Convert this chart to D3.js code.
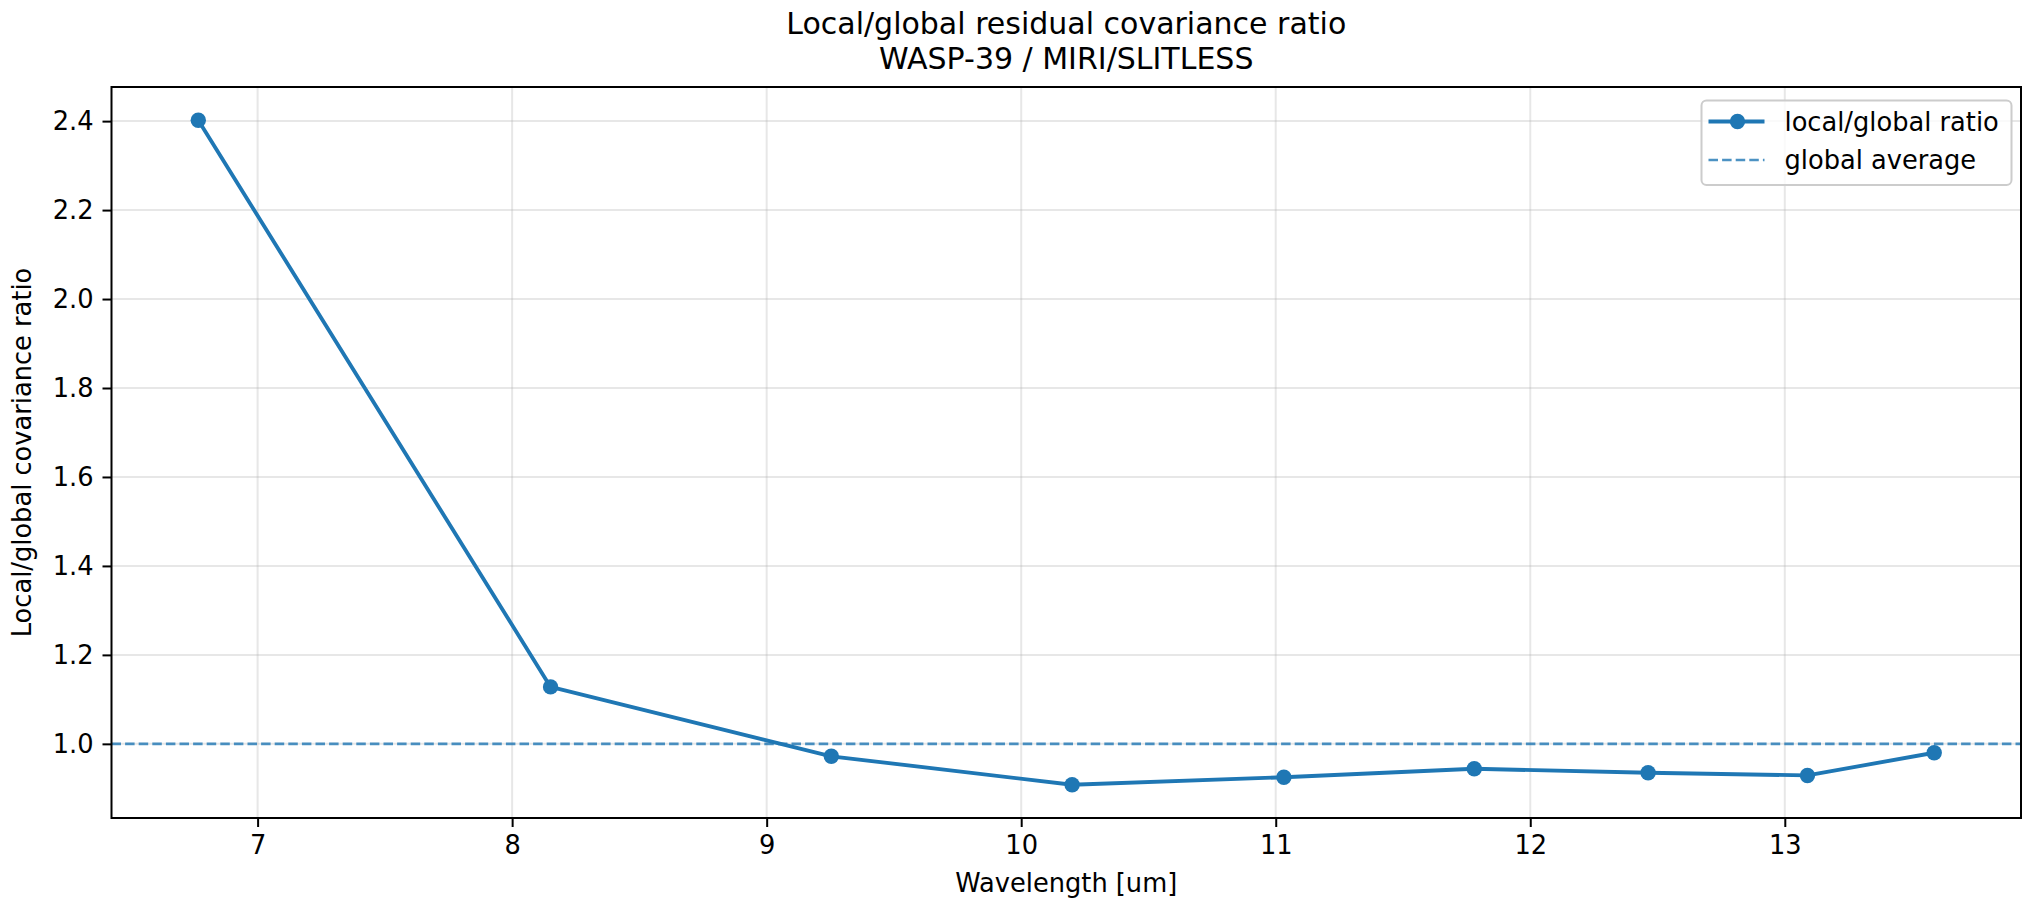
<!DOCTYPE html>
<html>
<head>
<meta charset="utf-8">
<script src="https://cdn.jsdelivr.net/npm/d3@7"></script>
<style>
  body { margin: 0; background: #fff; }
  text { font-family: "DejaVu Sans", sans-serif; fill: #000; }
</style>
</head>
<body>
<div id="chart"></div>
<script>
// data
const wavelength = [6.767, 8.151, 9.254, 10.200, 11.032, 11.780, 12.463, 13.089, 13.587];
const ratio      = [2.402, 1.128, 0.972, 0.908, 0.925, 0.944, 0.935, 0.929, 0.980];
const globalAvg  = 1.0;
const xTicks = [7, 8, 9, 10, 11, 12, 13];
const yTicks = [1.0, 1.2, 1.4, 1.6, 1.8, 2.0, 2.2, 2.4];
const titleLines = ["Local/global residual covariance ratio", "WASP-39 / MIRI/SLITLESS"];
const legendLabels = ["local/global ratio", "global average"];

const W = 2024, H = 899;
const margin = {top: 87, right: 3, bottom: 81, left: 111.5};
const width = W - margin.left - margin.right;
const height = H - margin.top - margin.bottom;
const blue = "#1f77b4";
const fs = 25.7;

// matplotlib-ish 5% margins
const xPad = (d3.max(wavelength) - d3.min(wavelength)) * 0.05;
const yPad = (d3.max(ratio) - d3.min(ratio)) * 0.05;
const xScale = d3.scaleLinear().domain([d3.min(wavelength) - xPad, d3.max(wavelength) + xPad]).range([0, width]);
const yScale = d3.scaleLinear().domain([d3.min(ratio) - yPad, d3.max(ratio) + yPad]).range([height, 0]);

const svgRoot = d3.select("#chart").append("svg")
    .attr("width", W).attr("height", H);
const svg = svgRoot.append("g")
    .attr("transform", "translate(" + margin.left + "," + margin.top + ")");

// grid
svg.append("g").selectAll("line").data(xTicks).enter().append("line")
    .attr("x1", d => xScale(d)).attr("x2", d => xScale(d))
    .attr("y1", 0).attr("y2", height)
    .attr("stroke", "#b0b0b0").attr("stroke-opacity", 0.3).attr("stroke-width", 2);
svg.append("g").selectAll("line").data(yTicks).enter().append("line")
    .attr("x1", 0).attr("x2", width)
    .attr("y1", d => yScale(d)).attr("y2", d => yScale(d))
    .attr("stroke", "#b0b0b0").attr("stroke-opacity", 0.3).attr("stroke-width", 2);

// global average line
svg.append("line")
    .attr("x1", 0).attr("x2", width)
    .attr("y1", yScale(globalAvg)).attr("y2", yScale(globalAvg))
    .attr("stroke", blue).attr("stroke-opacity", 0.8).attr("stroke-width", 2.6)
    .attr("stroke-dasharray", "9.5,4.1");

// ratio line + dots
const line = d3.line().x((d, i) => xScale(wavelength[i])).y(d => yScale(d));
svg.append("path").datum(ratio)
    .attr("d", line).attr("fill", "none")
    .attr("stroke", blue).attr("stroke-width", 3.85).attr("stroke-linejoin", "round");
svg.append("g").selectAll("circle").data(ratio).enter().append("circle")
    .attr("cx", (d, i) => xScale(wavelength[i])).attr("cy", d => yScale(d))
    .attr("r", 7.7).attr("fill", blue);

// axes
const xAxis = d3.axisBottom(xScale).tickValues(xTicks).tickFormat(d3.format("d")).tickSize(9).tickPadding(9);
const yAxis = d3.axisLeft(yScale).tickValues(yTicks).tickFormat(d3.format(".1f")).tickSize(9).tickPadding(9);
const gx = svg.append("g").attr("transform", "translate(0," + height + ")").call(xAxis);
const gy = svg.append("g").call(yAxis);
[gx, gy].forEach(g => {
  g.select(".domain").remove();
  g.selectAll(".tick line").attr("stroke", "#000").attr("stroke-width", 2);
  g.selectAll(".tick text").attr("font-size", fs).attr("font-family", "DejaVu Sans").attr("fill", "#000");
});

// frame
svg.append("rect").attr("x", 0).attr("y", 0).attr("width", width).attr("height", height)
    .attr("fill", "none").attr("stroke", "#000").attr("stroke-width", 2);

// two-line title
const title = svgRoot.append("text").attr("text-anchor", "middle").attr("font-size", 30);
title.append("tspan").attr("x", margin.left + width / 2).attr("y", 33.5).text(titleLines[0]);
title.append("tspan").attr("x", margin.left + width / 2).attr("y", 68.5).text(titleLines[1]);

svgRoot.append("text").attr("x", margin.left + width / 2).attr("y", 892)
    .attr("text-anchor", "middle").attr("font-size", fs).text("Wavelength [um]");
svgRoot.append("text")
    .attr("transform", "translate(31," + (margin.top + height / 2) + ") rotate(-90)")
    .attr("text-anchor", "middle").attr("font-size", fs).text("Local/global covariance ratio");

// legend
const lg = svgRoot.append("g").attr("transform", "translate(1701.5,100.5)");
lg.append("rect").attr("width", 310).attr("height", 84.5).attr("rx", 5)
    .attr("fill", "#fff").attr("fill-opacity", 0.8).attr("stroke", "#cccccc").attr("stroke-width", 2);
lg.append("line").attr("x1", 7).attr("x2", 63).attr("y1", 21).attr("y2", 21)
    .attr("stroke", blue).attr("stroke-width", 3.85);
lg.append("circle").attr("cx", 36).attr("cy", 21).attr("r", 7.7).attr("fill", blue);
lg.append("line").attr("x1", 7).attr("x2", 63).attr("y1", 59.5).attr("y2", 59.5)
    .attr("stroke", blue).attr("stroke-opacity", 0.8).attr("stroke-width", 2.6)
    .attr("stroke-dasharray", "9.5,4.1");
lg.append("text").attr("x", 83).attr("y", 30).attr("font-size", fs).text(legendLabels[0]);
lg.append("text").attr("x", 83).attr("y", 68.5).attr("font-size", fs).text(legendLabels[1]);
</script>
</body>
</html>
